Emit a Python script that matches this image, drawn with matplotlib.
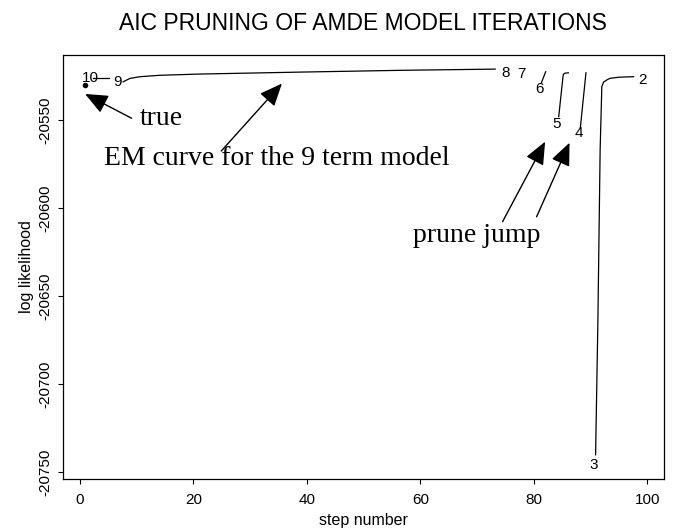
import matplotlib.pyplot as plt

plt.rcParams["axes.unicode_minus"] = False

# EM curves, one per model size (step number, log likelihood)
step10 = [2.3, 5.2]
ll10 = [-20526.3, -20526.3]
step9 = [7.6, 8.8, 10.6, 14.1, 21.2, 38.8, 56.4, 73.2]
ll9 = [-20528.3, -20526.4, -20525.4, -20524.6, -20523.9, -20522.8, -20521.8, -20521.1]
step6 = [81.3, 82.1]
ll6 = [-20529.2, -20522.6]
step5 = [84.4, 85.0, 85.2, 85.5, 86.1]
ll5 = [-20548.1, -20530.0, -20524.1, -20523.4, -20523.2]
step4 = [88.2, 89.2]
ll4 = [-20554.7, -20523.2]
step3 = [90.9, 91.3, 91.7, 92.0, 92.3, 93.0, 93.5, 95.0, 97.6]
ll3 = [-20740.0, -20665.0, -20567.0, -20531.1, -20528.5, -20527.0, -20526.3, -20525.7, -20525.4]

# number of terms, written where each model starts
terms = ["10", "9", "8", "7", "6", "5", "4", "3", "2"]
term_step = [1.9, 6.7, 75.0, 77.9, 81.0, 84.1, 88.0, 90.6, 99.2]
term_ll = [-20526.4, -20528.7, -20523.2, -20523.9, -20532.4, -20552.3, -20557.5, -20745.8, -20527.3]

true_step = 0.9
true_ll = -20530.3

fig = plt.figure(figsize=(6.77, 5.31), dpi=100)
ax = fig.add_axes([0.0926, 0.0974, 0.8877, 0.799])

for xs, ys in [(step10, ll10), (step9, ll9), (step6, ll6), (step5, ll5), (step4, ll4), (step3, ll3)]:
    ax.plot(xs, ys, color="black", lw=0.9)

for t, xs, ys in zip(terms, term_step, term_ll):
    ax.text(xs, ys, t, ha="center", va="center", fontsize=11, family="Liberation Sans")

ax.plot([true_step], [true_ll], "o", color="black", ms=3)

ax.set_xlim(-3.05, 102.9)
ax.set_ylim(-20753.9, -20513.1)
ax.set_xticks([0, 20, 40, 60, 80, 100])
ax.set_yticks([-20750, -20700, -20650, -20600, -20550])
ax.tick_params(direction="out", length=3.6, width=0.8, labelsize=11)
ax.tick_params(axis="x", pad=6)
ax.tick_params(axis="y", pad=4)
for lab in ax.get_xticklabels() + ax.get_yticklabels():
    lab.set_family("Liberation Sans")
plt.setp(ax.get_yticklabels(), rotation=90, va="center")
for s in ax.spines.values():
    s.set_linewidth(0.9)

# hand-drawn style annotations
arrow = dict(arrowstyle="-|>,head_length=0.7,head_width=0.3", color="black", lw=1.0, mutation_scale=20, shrinkA=0, shrinkB=0)
ax.annotate("", xy=(0.9, -20535.2), xytext=(9.1, -20549.0), arrowprops=arrow)
ax.text(10.6, -20549.4, "true", ha="left", va="center", fontsize=20, family="Liberation Serif")

ax.annotate("", xy=(35.6, -20529.3), xytext=(24.9, -20567.6), arrowprops=arrow)
ax.text(4.2, -20571.6, "EM curve for the 9 term model", ha="left", va="center", fontsize=20, family="Liberation Serif")

ax.annotate("", xy=(82.0, -20562.3), xytext=(74.5, -20607.7), arrowprops=arrow)
ax.annotate("", xy=(86.3, -20562.9), xytext=(80.5, -20604.9), arrowprops=arrow)
ax.text(58.7, -20615.3, "prune jump", ha="left", va="center", fontsize=20, family="Liberation Serif")

fig.text(363 / 677, 1 - 24 / 531, "AIC PRUNING OF AMDE MODEL ITERATIONS", ha="center", va="center", fontsize=16.5, family="Liberation Sans")
fig.text(363 / 677, 1 - 520 / 531, "step number", ha="center", va="center", fontsize=11.5, family="Liberation Sans")
fig.text(26 / 677, 1 - 267 / 531, "log likelihood", ha="center", va="center", rotation=90, fontsize=11.5, family="Liberation Sans")

fig.savefig("out.png", dpi=100)
